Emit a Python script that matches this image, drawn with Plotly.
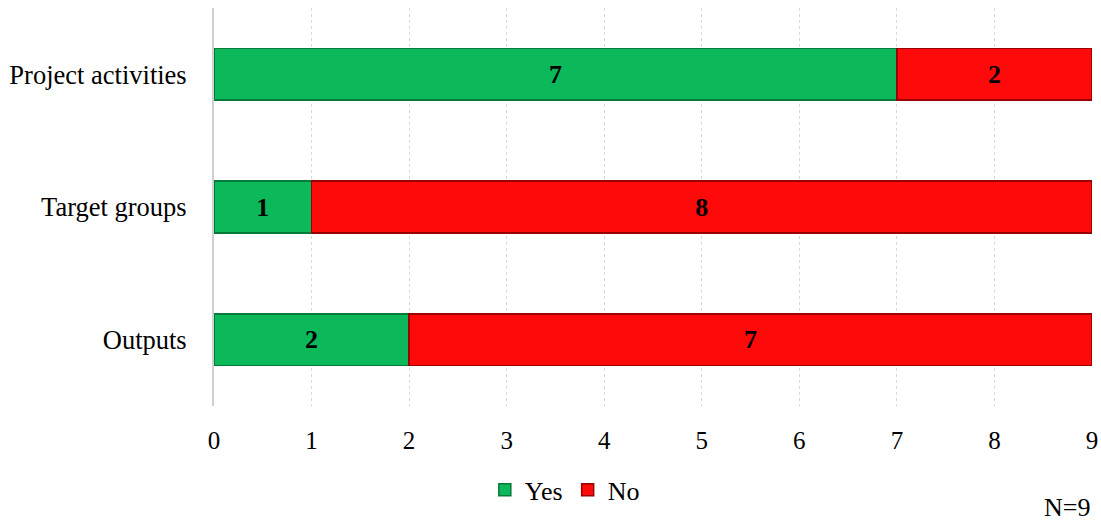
import plotly.graph_objects as go

categories = ["Project activities", "Target groups", "Outputs"]
yes_values = [7, 1, 2]
no_values = [2, 8, 7]
x_ticks = [0, 1, 2, 3, 4, 5, 6, 7, 8, 9]

font_family = "Liberation Serif, Times New Roman, serif"

fig = go.Figure()
fig.add_trace(go.Bar(
    y=categories, x=yes_values, name="Yes", orientation="h",
    marker=dict(color="#0BB85A", line=dict(color="#067A3A", width=1.5)),
    text=yes_values, textposition="inside", insidetextanchor="middle",
    texttemplate="<b>%{text}</b>",
    textfont=dict(family=font_family, size=26, color="black"),
    width=0.39,
))
fig.add_trace(go.Bar(
    y=categories, x=no_values, name="No", orientation="h",
    marker=dict(color="#FF0A0A", line=dict(color="#9A0000", width=1.5)),
    text=no_values, textposition="inside", insidetextanchor="middle",
    texttemplate="<b>%{text}</b>",
    textfont=dict(family=font_family, size=26, color="black"),
    width=0.39,
))

fig.update_layout(
    barmode="stack",
    width=1101, height=524,
    margin=dict(l=214, r=9, t=8, b=118),
    plot_bgcolor="white", paper_bgcolor="white",
    font=dict(family=font_family, size=26, color="black"),
    showlegend=True,
    legend=dict(
        orientation="h", xref="container", yref="container",
        x=0.513, xanchor="center", y=0.065, yanchor="middle",
        font=dict(size=26), traceorder="normal",
        itemwidth=30,
    ),
    annotations=[dict(
        text="N=9", xref="paper", yref="paper", x=1.0, xanchor="right",
        y=-0.256, yanchor="middle", showarrow=False,
        font=dict(size=26, family=font_family),
    )],
)
fig.update_xaxes(
    range=[0, 9], tickvals=x_ticks, ticktext=[str(v) for v in x_ticks],
    showgrid=True, gridcolor="#D8D8D8", griddash="dot", gridwidth=1,
    zeroline=False, showline=False, automargin=False,
    ticks="outside", ticklen=12, tickcolor="rgba(0,0,0,0)",
    tickfont=dict(size=25),
)
fig.update_yaxes(
    categoryorder="array", categoryarray=categories, autorange="reversed",
    showgrid=False, zeroline=False, automargin=False,
    showline=True, linecolor="#D0D0D0", linewidth=2,
    ticks="outside", ticklen=20, tickcolor="rgba(0,0,0,0)",
    tickfont=dict(size=26.5),
)

fig.write_html("out.html")
